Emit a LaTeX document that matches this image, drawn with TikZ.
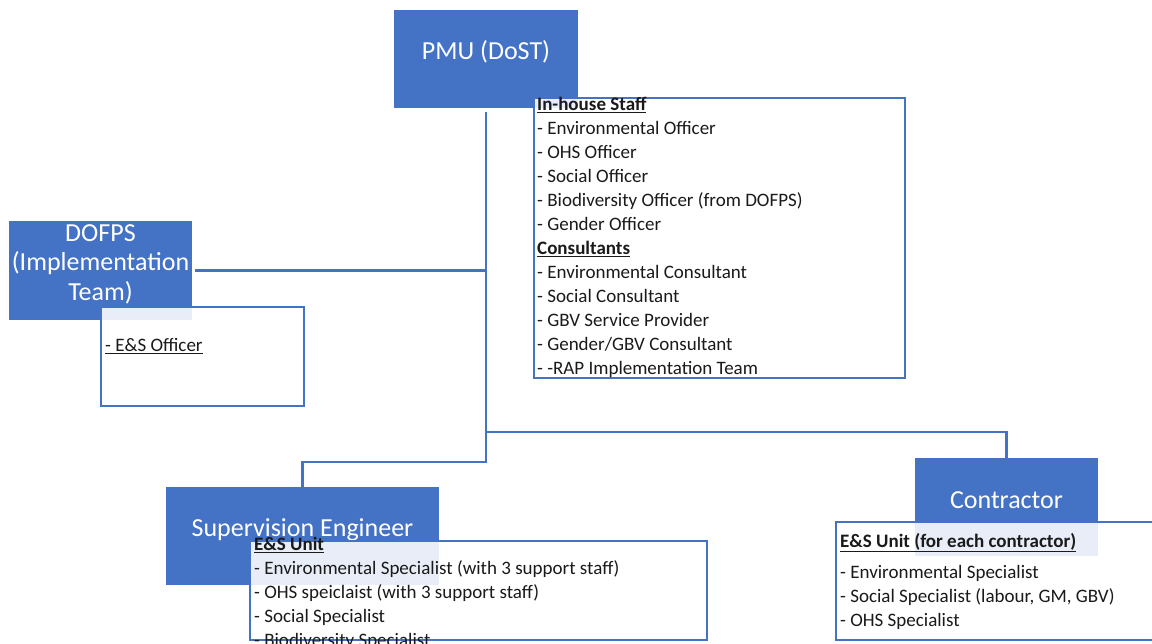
\documentclass[tikz,border=0pt]{standalone}
\usepackage{fontspec}
\setmainfont{Carlito}
\definecolor{oblue}{HTML}{4472C4}
\definecolor{txt}{HTML}{1A1A1A}
\begin{document}
\begin{tikzpicture}[x=1pt,y=-1pt,
  bluebox/.style={fill=oblue,draw=none,inner sep=0pt},
  title/.style={text=white,font=\fontsize{26}{29.5}\selectfont,align=center,inner sep=0pt},
  listbox/.style={draw=oblue,line width=2pt,fill=white,fill opacity=0.88,inner sep=0pt},
  listtext/.style={text=txt,font=\fontsize{19}{24}\selectfont,align=left,anchor=north west,inner sep=0pt},
  conn/.style={draw=oblue,line width=2.2pt}]
\useasboundingbox (0,0) rectangle (1152,643);
\clip (0,0) rectangle (1152,643);
% blue boxes
\node[bluebox,minimum width=184pt,minimum height=98pt] (pmu) at (486,59) {};
\node[bluebox,minimum width=183pt,minimum height=99pt] (dofps) at (100.5,270.5) {};
\node[bluebox,minimum width=273pt,minimum height=98pt] (se) at (302.5,536) {};
\node[bluebox,minimum width=183pt,minimum height=98pt] (con) at (1006.5,507) {};
\node[title] (pmut) at (486,52) {PMU (DoST)};
\node[title] (dofpst) at (100.5,264) {DOFPS\\(Implementation\\Team)};
\node[title] (set) at (302.5,530) {Supervision Engineer};
\node[title] (cont) at (1006.5,500) {Contractor};
% connectors
\coordinate (j2) at (486,432);
\coordinate (j3) at (486,462);
\draw[conn,shorten <=4pt] (pmu.south) -- (j3) -| (se.north);
\draw[conn] (j2) -| (con.north);
\draw[conn,shorten <=3pt] (dofps.east) -- (dofps.east -| j2);
% list boxes
\node[listbox,minimum width=371pt,minimum height=280pt] (pmub) at (719.5,238) {};
\node[listbox,minimum width=203pt,minimum height=99pt] (dofpsb) at (202.5,356.5) {};
\node[listbox,minimum width=457pt,minimum height=99pt] (seb) at (478.5,590.5) {};
\node[listbox,minimum width=330pt,minimum height=118pt] (conb) at (1001,581) {};
% list texts
\node[listtext] (pmul) at (537,97) {\textbf{\underline{In-house Staff}}\\
- Environmental Officer\\
- OHS Officer\\
- Social Officer\\
- Biodiversity Officer (from DOFPS)\\
- Gender Officer\\
\textbf{\underline{Consultants}}\\
- Environmental Consultant\\
- Social Consultant\\
- GBV Service Provider\\
- Gender/GBV Consultant\\
- -RAP Implementation Team};
\node[listtext] (dofpsl) at (105,338) {\underline{- E\&S Officer}};
\node[listtext] (sel) at (254,537) {\textbf{\underline{E\&S Unit}}\\
- Environmental Specialist (with 3 support staff)\\
- OHS speiclaist (with 3 support staff)\\
- Social Specialist\\
- Biodiversity Specialist};
\node[listtext] (conh) at (840,533) {\textbf{\underline{E\&S Unit (for each contractor)}}};
\node[listtext] (conl) at (840,565) {- Environmental Specialist\\
- Social Specialist (labour, GM, GBV)\\
- OHS Specialist};
\end{tikzpicture}
\end{document}
